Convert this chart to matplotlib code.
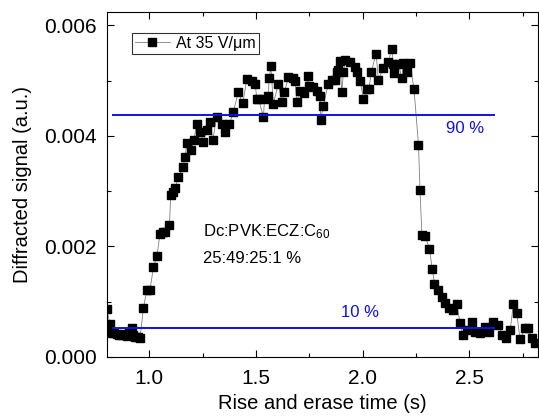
import matplotlib
matplotlib.use("Agg")
import matplotlib.pyplot as plt
from matplotlib.ticker import MultipleLocator, FormatStrFormatter

plt.rcParams['font.family'] = ['Liberation Sans', 'DejaVu Sans']
plt.rcParams['mathtext.fontset'] = 'custom'
plt.rcParams['mathtext.rm'] = 'Liberation Sans'
plt.rcParams['mathtext.it'] = 'Liberation Sans'

time_s = [0.800, 0.815, 0.823, 0.835, 0.847, 0.858, 0.870, 0.882, 0.894, 0.905,
          0.917, 0.925, 0.933, 0.945, 0.956, 0.972, 0.988, 1.003, 1.019, 1.035,
          1.050, 1.062, 1.073, 1.094, 1.100, 1.112, 1.120, 1.136, 1.156, 1.168,
          1.175, 1.194, 1.209, 1.222, 1.238, 1.253, 1.269, 1.285, 1.297, 1.316,
          1.339, 1.355, 1.375, 1.394, 1.417, 1.438, 1.457, 1.480, 1.496, 1.504,
          1.511, 1.535, 1.540, 1.558, 1.561, 1.570, 1.581, 1.605, 1.621, 1.633,
          1.652, 1.675, 1.683, 1.691, 1.707, 1.727, 1.746, 1.749, 1.769, 1.785,
          1.800, 1.803, 1.816, 1.839, 1.858, 1.871, 1.879, 1.886, 1.894, 1.902,
          1.910, 1.918, 1.941, 1.965, 1.973, 1.988, 2.004, 2.020, 2.030, 2.040,
          2.063, 2.074, 2.097, 2.121, 2.137, 2.144, 2.149, 2.168, 2.184, 2.191,
          2.207, 2.223, 2.241, 2.262, 2.269, 2.278, 2.293, 2.313, 2.327, 2.337,
          2.355, 2.371, 2.386, 2.407, 2.426, 2.441, 2.457, 2.470, 2.489, 2.512,
          2.527, 2.551, 2.574, 2.594, 2.613, 2.637, 2.653, 2.673, 2.692, 2.707,
          2.723, 2.738, 2.762, 2.777, 2.793, 2.809]

signal = [0.00087, 0.00060, 0.00044, 0.00043, 0.00042, 0.00040, 0.00040, 0.00041, 0.00038, 0.00045,
          0.00052, 0.00040, 0.00037, 0.00036, 0.00034, 0.00088, 0.00122, 0.00122, 0.00162, 0.00182,
          0.00223, 0.00226, 0.00226, 0.00238, 0.00293, 0.00299, 0.00305, 0.00325, 0.00343, 0.00362,
          0.00387, 0.00375, 0.00392, 0.00422, 0.00407, 0.00389, 0.00410, 0.00425, 0.00392, 0.00435,
          0.00422, 0.00407, 0.00421, 0.00444, 0.00479, 0.00459, 0.00503, 0.00499, 0.00494, 0.00467,
          0.00467, 0.00435, 0.00467, 0.00473, 0.00504, 0.00526, 0.00458, 0.00494, 0.00461, 0.00479,
          0.00506, 0.00505, 0.00500, 0.00462, 0.00482, 0.00477, 0.00509, 0.00491, 0.00488, 0.00482,
          0.00473, 0.00428, 0.00455, 0.00494, 0.00502, 0.00501, 0.00515, 0.00519, 0.00536, 0.00479,
          0.00515, 0.00537, 0.00534, 0.00525, 0.00516, 0.00500, 0.00467, 0.00485, 0.00485, 0.00515,
          0.00549, 0.00502, 0.00522, 0.00534, 0.00558, 0.00531, 0.00514, 0.00531, 0.00504, 0.00532,
          0.00516, 0.00532, 0.00484, 0.00384, 0.00302, 0.00220, 0.00219, 0.00196, 0.00159, 0.00132,
          0.00121, 0.00109, 0.00097, 0.00088, 0.00085, 0.00096, 0.00061, 0.00040, 0.00049, 0.00064,
          0.00046, 0.00043, 0.00055, 0.00046, 0.00064, 0.00058, 0.00040, 0.00034, 0.00049, 0.00096,
          0.00079, 0.00032, 0.00052, 0.00052, 0.00034, 0.00025]

level_90 = 0.00437
level_10 = 0.00052
level_x = [0.83, 2.615]

fig = plt.figure(figsize=(5.39, 4.18), dpi=100)
ax = fig.add_axes([0.198, 0.146, 0.800, 0.825])

ax.plot(time_s, signal, color='#808080', lw=0.6, marker='s', markersize=5.8,
        markerfacecolor='black', markeredgecolor='black', label='At 35 V/\u03bcm')
ax.plot(level_x, [level_90, level_90], color='#1010e8', lw=1.4)
ax.plot(level_x, [level_10, level_10], color='#1010e8', lw=1.4)

ax.text(2.48, 0.00414, '90 %', color='#1010e8', fontsize=12, ha='center', va='center')
ax.text(1.99, 0.00081, '10 %', color='#1010e8', fontsize=12, ha='center', va='center')
ax.text(1.25, 0.00226, 'Dc:PVK:ECZ:C$_{60}$', fontsize=12, ha='left', va='center')
ax.text(1.25, 0.00179, '25:49:25:1 %', fontsize=12, ha='left', va='center')

ax.set_xlim(0.8, 2.822)
ax.set_ylim(0.0, 0.00624)
ax.xaxis.set_major_locator(MultipleLocator(0.5))
ax.xaxis.set_minor_locator(MultipleLocator(0.25))
ax.yaxis.set_major_locator(MultipleLocator(0.002))
ax.yaxis.set_minor_locator(MultipleLocator(0.001))
ax.xaxis.set_major_formatter(FormatStrFormatter('%.1f'))
ax.yaxis.set_major_formatter(FormatStrFormatter('%.3f'))
ax.tick_params(which='both', direction='in', top=True, right=True, labelsize=15)
ax.tick_params(which='major', length=5, width=0.8)
ax.tick_params(which='minor', length=3, width=0.8)
ax.tick_params(axis='x', which='major', pad=9)
ax.tick_params(axis='y', which='major', pad=7)

ax.set_xlabel('Rise and erase time (s)', fontsize=14.5, labelpad=4)
ax.set_ylabel('Diffracted signal (a.u.)', fontsize=14.5, labelpad=9)

leg = ax.legend(loc='upper left', bbox_to_anchor=(0.058, 0.94), fontsize=11.5,
                frameon=True, fancybox=False, edgecolor='black', borderpad=0.2,
                handlelength=2.2, handletextpad=0.4, borderaxespad=0)
leg.get_frame().set_linewidth(0.8)

fig.savefig('out.png', dpi=100)
